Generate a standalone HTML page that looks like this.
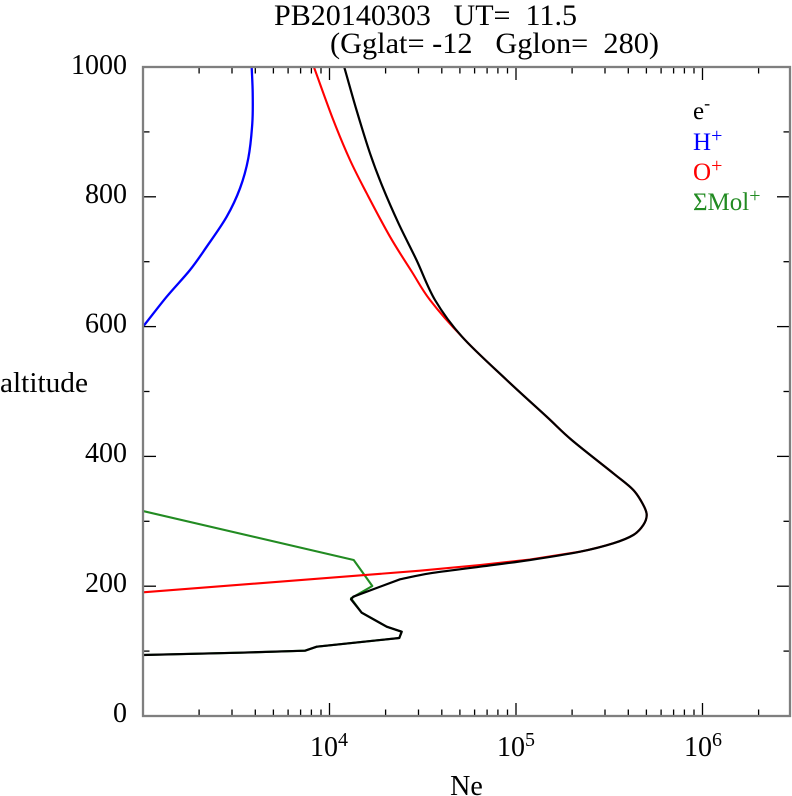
<!DOCTYPE html>
<html>
<head>
<meta charset="utf-8">
<style>
  html, body { margin: 0; padding: 0; background: #ffffff; }
  svg { display: block; }
  text { font-family: "Liberation Serif", "DejaVu Serif", serif; fill: #000; }
</style>
</head>
<body>
<svg width="792" height="796" viewBox="0 0 792 796" xmlns="http://www.w3.org/2000/svg">
  <rect x="0" y="0" width="792" height="796" fill="#ffffff"/>

  <!-- Title -->
  <text x="274" y="25" font-size="30" textLength="303" lengthAdjust="spacingAndGlyphs" xml:space="preserve">PB20140303   UT=  11.5</text>
  <text x="330" y="53" font-size="30" textLength="329" lengthAdjust="spacingAndGlyphs" xml:space="preserve">(Gglat= -12   Gglon=  280)</text>

  <defs>
    <clipPath id="plot">
      <rect x="143" y="67" width="647" height="649"/>
    </clipPath>
  </defs>

  <!-- Curves -->
  <g clip-path="url(#plot)" fill="none" stroke-linejoin="round" stroke-linecap="round">
    <!-- H+ -->
    <path stroke="#0000ff" stroke-width="2.3" d="M251.7,67.3 C252.03,76 252.6,83.97 252.7,93.3 C252.8,102.63 253.03,112.47 252.3,123.3 C251.57,134.13 250.35,147.47 248.3,158.3 C246.25,169.13 243.6,178.57 240,188.3 C236.4,198.03 232.25,206.97 226.7,216.7 C221.15,226.43 212.82,237.82 206.7,246.7 C200.58,255.58 196.67,261.67 190,270 C183.33,278.33 174.53,287.25 166.7,296.7 C158.87,306.15 151,316.7 143,326.7"/>
    <!-- Sum Mol+ -->
    <polyline stroke="#228b22" stroke-width="2.1" points="143,511 353.7,560 372.3,586 351,598.3 361.7,612.7 386.7,626.7 401.7,631.7 399.3,638 316.7,646.7 305,650.7 240,652.7 143,655"/>
    <!-- O+ -->
    <path stroke="#ff0000" stroke-width="2.1" d="M143,592.3 L420,570.7 L480,565 L530,559.5 L580,551.7
      C593.88,548.92 604.42,546.08 613.3,543.3
      C622.18,540.52 628.3,538.05 633.3,535
      C638.3,531.95 641.07,528.33 643.3,525
      C645.53,521.67 646.7,518.33 646.7,515
      C646.7,511.67 645.53,509.17 643.3,505
      C641.07,500.83 638.3,495.28 633.3,490
      C628.3,484.72 623.57,481.63 613.3,473.3
      C603.03,464.97 582.8,449.43 571.7,440
      C560.6,430.57 557.53,426.7 546.7,416.7
      C535.87,406.7 520.82,393.33 506.7,380
      C492.58,366.67 473.95,350.03 462,336.7
      C449.22,323.37 438.33,310.78 430,300
      C421.67,289.22 418.67,282.55 412,272
      C405.33,261.45 397.55,249.82 390,236.7
      C382.45,223.58 373.37,206.08 366.7,193.3
      C360.03,180.52 355.57,172.22 350,160
      C344.43,147.78 339.3,135.45 333.3,120
      C327.3,104.55 320.43,84.87 314,67.3 L312,61"/>
    <!-- e- -->
    <path stroke="#000000" stroke-width="2.2" d="M342.5,61 L344.3,67.3
      C348.4,81.5 352.22,95.67 356.5,110
      C360.78,124.33 365.67,140.52 370,153.3
      C374.33,166.08 377.75,175.03 382.5,186.7
      C387.25,198.37 392.83,211.08 398.5,223.3
      C404.17,235.52 410.42,247.22 416.5,260
      C422.58,272.78 427.42,287.22 435,300
      C442.58,312.78 450.05,323.37 462,336.7
      C473.95,350.03 492.58,366.67 506.7,380
      C520.82,393.33 535.87,406.7 546.7,416.7
      C557.53,426.7 560.6,430.57 571.7,440
      C582.8,449.43 603.03,464.97 613.3,473.3
      C623.57,481.63 628.3,484.72 633.3,490
      C638.3,495.28 641.07,500.83 643.3,505
      C645.53,509.17 646.7,511.67 646.7,515
      C646.7,518.33 645.53,521.67 643.3,525
      C641.07,528.33 638.3,531.95 633.3,535
      C628.3,538.05 622.18,540.52 613.3,543.3
      C604.42,546.08 593.88,548.92 580,551.7
      C566.12,554.48 546.67,557.5 530,560
      C513.33,562.5 496.67,564.48 480,566.7
      C463.33,568.92 443.3,571.2 430,573.3
      C416.7,575.4 410,577.3 400,579.3
      L353.3,596.7 L351,599.3 L361.7,612.7 L386.7,626.7 L401.7,631.7 L399.3,638 L316.7,646.7 L305,650.7 L240,652.7 L143,655"/>
  </g>

  <!-- Ticks -->
  <g stroke="#000" stroke-width="1.3" fill="none">
    <line x1="143" y1="651.1" x2="149.5" y2="651.1"/><line x1="790" y1="651.1" x2="783.5" y2="651.1"/>
    <line x1="143" y1="586.2" x2="156" y2="586.2"/><line x1="790" y1="586.2" x2="777" y2="586.2"/>
    <line x1="143" y1="521.3" x2="149.5" y2="521.3"/><line x1="790" y1="521.3" x2="783.5" y2="521.3"/>
    <line x1="143" y1="456.4" x2="156" y2="456.4"/><line x1="790" y1="456.4" x2="777" y2="456.4"/>
    <line x1="143" y1="391.5" x2="149.5" y2="391.5"/><line x1="790" y1="391.5" x2="783.5" y2="391.5"/>
    <line x1="143" y1="326.6" x2="156" y2="326.6"/><line x1="790" y1="326.6" x2="777" y2="326.6"/>
    <line x1="143" y1="261.7" x2="149.5" y2="261.7"/><line x1="790" y1="261.7" x2="783.5" y2="261.7"/>
    <line x1="143" y1="196.8" x2="156" y2="196.8"/><line x1="790" y1="196.8" x2="777" y2="196.8"/>
    <line x1="143" y1="131.9" x2="149.5" y2="131.9"/><line x1="790" y1="131.9" x2="783.5" y2="131.9"/>

    <path d="M199.1,716v-6.5 M232,716v-6.5 M255.3,716v-6.5 M273.4,716v-6.5 M288.1,716v-6.5 M300.6,716v-6.5 M311.4,716v-6.5 M321,716v-6.5
             M385.6,716v-6.5 M418.5,716v-6.5 M441.8,716v-6.5 M459.9,716v-6.5 M474.6,716v-6.5 M487.1,716v-6.5 M497.9,716v-6.5 M507.5,716v-6.5
             M572.1,716v-6.5 M605,716v-6.5 M628.3,716v-6.5 M646.4,716v-6.5 M661.1,716v-6.5 M673.6,716v-6.5 M684.4,716v-6.5 M694,716v-6.5
             M758.6,716v-6.5"/>
    <path d="M329.5,716v-13 M516,716v-13 M702.5,716v-13"/>
    <path d="M199.1,67v6.5 M232,67v6.5 M255.3,67v6.5 M273.4,67v6.5 M288.1,67v6.5 M300.6,67v6.5 M311.4,67v6.5 M321,67v6.5
             M385.6,67v6.5 M418.5,67v6.5 M441.8,67v6.5 M459.9,67v6.5 M474.6,67v6.5 M487.1,67v6.5 M497.9,67v6.5 M507.5,67v6.5
             M572.1,67v6.5 M605,67v6.5 M628.3,67v6.5 M646.4,67v6.5 M661.1,67v6.5 M673.6,67v6.5 M684.4,67v6.5 M694,67v6.5
             M758.6,67v6.5"/>
    <path d="M329.5,67v13 M516,67v13 M702.5,67v13"/>
  </g>

  <!-- Axes box -->
  <rect x="143" y="67" width="647" height="649" fill="none" stroke="#7f7f7f" stroke-width="2.3"/>

  <!-- Y labels -->
  <g font-size="28" text-anchor="end">
    <text x="127" y="722">0</text>
    <text x="127" y="592">200</text>
    <text x="127" y="462">400</text>
    <text x="127" y="332.6">600</text>
    <text x="127" y="202.8">800</text>
    <text x="127" y="74">1000</text>
  </g>
  <text x="0" y="392" font-size="28" textLength="88" lengthAdjust="spacingAndGlyphs">altitude</text>

  <!-- X labels -->
  <g font-size="28" text-anchor="middle">
    <text x="329" y="756">10<tspan font-size="20" dy="-10">4</tspan></text>
    <text x="516" y="756">10<tspan font-size="20" dy="-10">5</tspan></text>
    <text x="703" y="756">10<tspan font-size="20" dy="-10">6</tspan></text>
  </g>
  <text x="466.5" y="795" font-size="28" text-anchor="middle">Ne</text>

  <!-- Legend -->
  <g font-size="25">
    <text x="693" y="119">e<tspan font-size="18" dy="-10">-</tspan></text>
    <text x="693" y="150" style="fill:#0000ff">H<tspan font-size="20" dy="-8">+</tspan></text>
    <text x="693" y="180" style="fill:#ff0000">O<tspan font-size="20" dy="-8">+</tspan></text>
    <text x="693" y="210" style="fill:#228b22">ΣMol<tspan font-size="20" dy="-8">+</tspan></text>
  </g>
</svg>
</body>
</html>
